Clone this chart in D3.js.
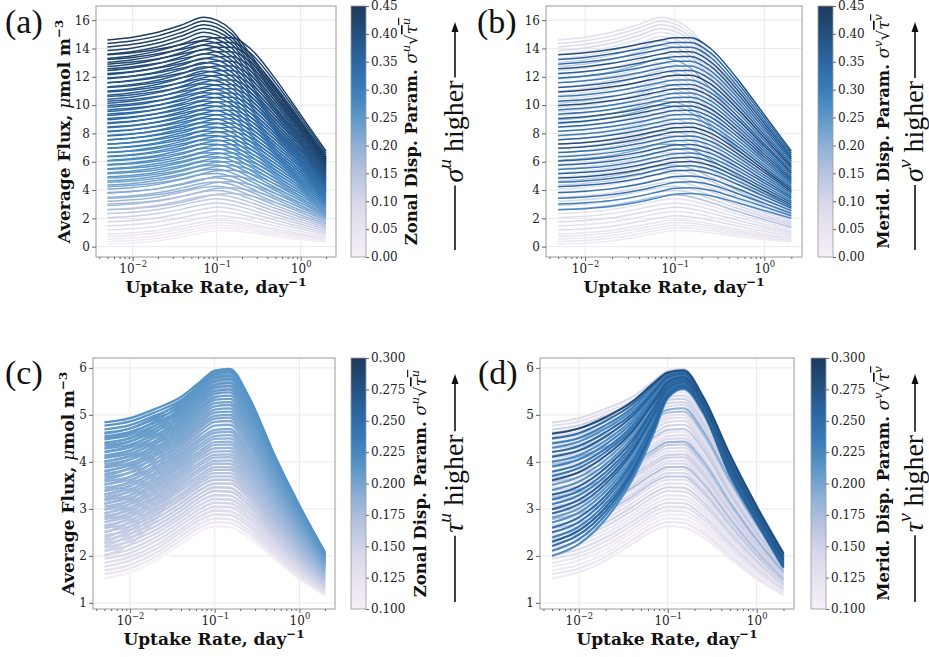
<!DOCTYPE html>
<html lang="en">
<head>
<meta charset="UTF-8">
<title>Average flux vs uptake rate</title>
<script src="https://d3js.org/d3.v7.min.js"></script>
<style>
  body { margin: 0; background: #fff; }
  svg { font-family: "DejaVu Serif", serif; }
</style>
</head>
<body>
<svg id="fig" width="929" height="657"></svg>
<script>
// uptake rates (day^-1) where each run was sampled
var uptakeRate = [0.005, 0.01, 0.02, 0.04, 0.07, 0.1, 0.15, 0.25, 0.5, 1, 2];
var rateTicks = [0.01, 0.1, 1];
var rateMinorTicks = [0.004, 0.005, 0.006, 0.007, 0.008, 0.009, 0.02, 0.03, 0.04, 0.05, 0.06, 0.07, 0.08, 0.09,
    0.2, 0.3, 0.4, 0.5, 0.6, 0.7, 0.8, 0.9, 2];

// top row: runs varying sigma (average flux, umol m^-3)
var fluxSigmaRuns = [
    [14.60, 14.80, 15.15, 15.70, 16.20, 16.00, 15.30, 13.60, 11.20, 8.80, 6.30],
    [14.35, 14.55, 14.89, 15.44, 15.94, 15.74, 15.05, 13.38, 11.02, 8.66, 6.20],
    [14.10, 14.29, 14.63, 15.18, 15.67, 15.48, 14.80, 13.16, 10.83, 8.51, 6.09],
    [13.85, 14.04, 14.38, 14.92, 15.41, 15.22, 14.56, 12.94, 10.65, 8.37, 5.99],
    [13.59, 13.78, 14.12, 14.65, 15.14, 14.96, 14.31, 12.72, 10.47, 8.22, 5.88],
    [13.30, 13.49, 13.83, 14.35, 14.84, 14.67, 14.03, 12.47, 10.26, 8.06, 5.77],
    [13.01, 13.20, 13.53, 14.05, 14.53, 14.37, 13.74, 12.21, 10.05, 7.89, 5.65],
    [12.73, 12.91, 13.24, 13.75, 14.23, 14.07, 13.46, 11.96, 9.84, 7.73, 5.53],
    [12.44, 12.62, 12.94, 13.45, 13.92, 13.77, 13.17, 11.71, 9.63, 7.56, 5.41],
    [12.15, 12.33, 12.65, 13.15, 13.62, 13.48, 12.89, 11.46, 9.42, 7.39, 5.29],
    [11.86, 12.04, 12.35, 12.85, 13.31, 13.18, 12.61, 11.20, 9.21, 7.22, 5.17],
    [11.57, 11.75, 12.06, 12.55, 13.01, 12.88, 12.33, 10.95, 9.00, 7.06, 5.05],
    [11.28, 11.45, 11.76, 12.25, 12.70, 12.58, 12.04, 10.70, 8.79, 6.89, 4.93],
    [10.99, 11.16, 11.47, 11.96, 12.40, 12.29, 11.76, 10.45, 8.58, 6.73, 4.81],
    [10.70, 10.87, 11.17, 11.66, 12.10, 11.99, 11.47, 10.19, 8.37, 6.56, 4.69],
    [10.42, 10.58, 10.88, 11.36, 11.80, 11.70, 11.19, 9.94, 8.16, 6.40, 4.58],
    [10.13, 10.29, 10.58, 11.06, 11.49, 11.40, 10.90, 9.69, 7.95, 6.23, 4.46],
    [9.84, 10.00, 10.29, 10.76, 11.19, 11.10, 10.62, 9.44, 7.74, 6.07, 4.34],
    [9.55, 9.71, 9.99, 10.46, 10.88, 10.80, 10.34, 9.18, 7.53, 5.90, 4.22],
    [9.26, 9.42, 9.70, 10.16, 10.58, 10.51, 10.06, 8.93, 7.32, 5.73, 4.10],
    [8.97, 9.13, 9.41, 9.86, 10.27, 10.21, 9.77, 8.68, 7.11, 5.56, 3.98],
    [8.69, 8.84, 9.12, 9.56, 9.97, 9.91, 9.49, 8.43, 6.90, 5.40, 3.86],
    [8.40, 8.54, 8.82, 9.26, 9.66, 9.61, 9.20, 8.17, 6.69, 5.23, 3.74],
    [8.11, 8.25, 8.53, 8.96, 9.36, 9.32, 8.92, 7.92, 6.48, 5.07, 3.62],
    [7.82, 7.96, 8.23, 8.66, 9.06, 9.02, 8.64, 7.67, 6.27, 4.90, 3.50],
    [7.53, 7.67, 7.94, 8.36, 8.76, 8.73, 8.36, 7.42, 6.07, 4.74, 3.39],
    [7.24, 7.38, 7.64, 8.06, 8.45, 8.43, 8.07, 7.16, 5.86, 4.57, 3.27],
    [6.95, 7.09, 7.35, 7.76, 8.15, 8.13, 7.79, 6.91, 5.65, 4.41, 3.15],
    [6.66, 6.80, 7.05, 7.46, 7.84, 7.83, 7.50, 6.66, 5.44, 4.24, 3.03],
    [6.38, 6.51, 6.76, 7.16, 7.54, 7.54, 7.22, 6.41, 5.23, 4.07, 2.91],
    [6.09, 6.22, 6.46, 6.86, 7.23, 7.24, 6.93, 6.15, 5.02, 3.90, 2.79],
    [5.80, 5.93, 6.17, 6.56, 6.93, 6.94, 6.65, 5.90, 4.81, 3.74, 2.67],
    [5.51, 5.63, 5.87, 6.26, 6.62, 6.64, 6.37, 5.65, 4.60, 3.57, 2.55],
    [5.22, 5.34, 5.58, 5.96, 6.32, 6.35, 6.09, 5.40, 4.39, 3.41, 2.43],
    [4.93, 5.05, 5.28, 5.66, 6.02, 6.05, 5.80, 5.15, 4.18, 3.24, 2.31],
    [4.65, 4.76, 4.99, 5.36, 5.72, 5.76, 5.52, 4.90, 3.97, 3.08, 2.20],
    [4.36, 4.47, 4.69, 5.06, 5.41, 5.46, 5.23, 4.64, 3.76, 2.91, 2.08],
    [4.07, 4.18, 4.40, 4.77, 5.11, 5.16, 4.95, 4.39, 3.55, 2.75, 1.96],
    [3.78, 3.89, 4.10, 4.47, 4.80, 4.86, 4.67, 4.14, 3.34, 2.58, 1.84],
    [3.49, 3.60, 3.81, 4.17, 4.50, 4.57, 4.39, 3.89, 3.13, 2.41, 1.72],
    [3.20, 3.31, 3.51, 3.87, 4.19, 4.27, 4.10, 3.63, 2.92, 2.24, 1.60],
    [2.91, 3.02, 3.22, 3.57, 3.89, 3.97, 3.82, 3.38, 2.71, 2.08, 1.48],
    [2.62, 2.72, 2.92, 3.27, 3.58, 3.67, 3.53, 3.13, 2.50, 1.91, 1.36],
    [2.34, 2.43, 2.63, 2.97, 3.28, 3.38, 3.25, 2.88, 2.29, 1.75, 1.24],
    [2.05, 2.14, 2.34, 2.67, 2.98, 3.08, 2.96, 2.62, 2.08, 1.58, 1.12],
    [1.76, 1.85, 2.04, 2.37, 2.67, 2.78, 2.68, 2.37, 1.87, 1.41, 1.00],
    [1.47, 1.56, 1.75, 2.07, 2.37, 2.49, 2.40, 2.12, 1.66, 1.25, 0.89],
    [1.18, 1.27, 1.45, 1.77, 2.06, 2.19, 2.11, 1.86, 1.45, 1.08, 0.77],
    [0.89, 0.98, 1.16, 1.47, 1.76, 1.89, 1.83, 1.61, 1.24, 0.92, 0.65],
    [0.71, 0.80, 0.98, 1.29, 1.57, 1.71, 1.66, 1.46, 1.11, 0.82, 0.58],
    [0.53, 0.61, 0.79, 1.10, 1.38, 1.52, 1.48, 1.30, 0.98, 0.71, 0.50],
    [0.35, 0.43, 0.61, 0.91, 1.19, 1.34, 1.30, 1.14, 0.85, 0.61, 0.43],
    [0.17, 0.25, 0.42, 0.72, 1.00, 1.15, 1.12, 0.98, 0.72, 0.50, 0.35],
    [13.55, 13.70, 13.95, 14.30, 14.60, 14.75, 14.75, 14.00, 11.85, 9.30, 6.75],
    [13.22, 13.37, 13.62, 13.97, 14.27, 14.42, 14.42, 13.69, 11.59, 9.10, 6.61],
    [12.89, 13.04, 13.28, 13.63, 13.93, 14.09, 14.09, 13.38, 11.33, 8.90, 6.47],
    [12.57, 12.71, 12.95, 13.30, 13.60, 13.76, 13.76, 13.07, 11.07, 8.70, 6.33],
    [12.24, 12.38, 12.62, 12.96, 13.27, 13.42, 13.43, 12.75, 10.80, 8.49, 6.18],
    [11.91, 12.05, 12.29, 12.63, 12.94, 13.09, 13.10, 12.44, 10.54, 8.29, 6.04],
    [11.58, 11.72, 11.95, 12.29, 12.60, 12.76, 12.77, 12.13, 10.28, 8.09, 5.90],
    [11.25, 11.39, 11.62, 11.96, 12.27, 12.43, 12.44, 11.82, 10.02, 7.89, 5.76],
    [10.92, 11.06, 11.29, 11.62, 11.94, 12.10, 12.11, 11.50, 9.75, 7.68, 5.61],
    [10.60, 10.73, 10.96, 11.29, 11.61, 11.77, 11.78, 11.19, 9.49, 7.48, 5.47],
    [10.27, 10.39, 10.62, 10.96, 11.27, 11.44, 11.45, 10.88, 9.23, 7.28, 5.33],
    [9.97, 10.09, 10.32, 10.65, 10.97, 11.14, 11.15, 10.60, 8.99, 7.09, 5.20],
    [9.66, 9.79, 10.01, 10.34, 10.66, 10.83, 10.85, 10.31, 8.74, 6.90, 5.06],
    [9.36, 9.49, 9.71, 10.04, 10.36, 10.53, 10.55, 10.03, 8.50, 6.72, 4.93],
    [9.06, 9.18, 9.40, 9.73, 10.05, 10.22, 10.24, 9.74, 8.26, 6.53, 4.80],
    [8.76, 8.88, 9.10, 9.43, 9.75, 9.92, 9.94, 9.45, 8.02, 6.35, 4.67],
    [8.46, 8.58, 8.79, 9.12, 9.44, 9.61, 9.64, 9.16, 7.78, 6.16, 4.54],
    [8.16, 8.28, 8.49, 8.81, 9.14, 9.31, 9.34, 8.88, 7.54, 5.98, 4.41],
    [7.86, 7.97, 8.18, 8.50, 8.83, 9.00, 9.03, 8.59, 7.30, 5.79, 4.28],
    [7.56, 7.67, 7.88, 8.20, 8.53, 8.70, 8.73, 8.31, 7.06, 5.61, 4.15],
    [7.25, 7.36, 7.57, 7.89, 8.22, 8.40, 8.43, 8.02, 6.82, 5.42, 4.02],
    [6.95, 7.06, 7.27, 7.59, 7.92, 8.10, 8.13, 7.74, 6.58, 5.24, 3.89],
    [6.65, 6.76, 6.96, 7.28, 7.61, 7.79, 7.82, 7.45, 6.34, 5.05, 3.76],
    [6.35, 6.46, 6.66, 6.97, 7.31, 7.49, 7.52, 7.17, 6.10, 4.87, 3.63],
    [6.05, 6.15, 6.35, 6.66, 7.00, 7.18, 7.22, 6.88, 5.86, 4.68, 3.50],
    [5.75, 5.85, 6.05, 6.36, 6.70, 6.88, 6.92, 6.59, 5.62, 4.50, 3.37],
    [5.45, 5.55, 5.74, 6.05, 6.39, 6.57, 6.61, 6.30, 5.38, 4.31, 3.24],
    [5.15, 5.25, 5.44, 5.75, 6.09, 6.27, 6.31, 6.02, 5.14, 4.12, 3.11],
    [4.85, 4.94, 5.13, 5.44, 5.78, 5.97, 6.01, 5.73, 4.89, 3.93, 2.97],
    [4.55, 4.64, 4.83, 5.13, 5.48, 5.67, 5.71, 5.45, 4.65, 3.75, 2.84],
    [4.24, 4.33, 4.52, 4.82, 5.17, 5.36, 5.40, 5.16, 4.41, 3.56, 2.71],
    [3.83, 3.92, 4.10, 4.41, 4.75, 4.95, 4.99, 4.77, 4.09, 3.31, 2.54],
    [3.42, 3.51, 3.68, 3.99, 4.33, 4.53, 4.58, 4.38, 3.76, 3.06, 2.36],
    [3.01, 3.10, 3.27, 3.57, 3.92, 4.12, 4.17, 3.99, 3.43, 2.81, 2.18],
    [2.60, 2.68, 2.85, 3.15, 3.50, 3.70, 3.75, 3.60, 3.10, 2.55, 2.00]
];
// sigma^u sqrt(tau^u) and sigma^v sqrt(tau^v) of each run above
var zonalSigmaParam = [0.44, 0.438, 0.435, 0.43, 0.425, 0.42, 0.415, 0.41, 0.405, 0.40, 0.395, 0.39, 0.385, 0.378,
    0.37, 0.365, 0.36, 0.355, 0.35, 0.345, 0.34, 0.335, 0.33, 0.322, 0.315, 0.31, 0.305, 0.298, 0.29, 0.283,
    0.275, 0.268, 0.26, 0.253, 0.245, 0.235, 0.225, 0.215, 0.205, 0.193, 0.18, 0.165, 0.15, 0.135, 0.12,
    0.105, 0.09, 0.07, 0.055, 0.043, 0.03, 0.02, 0.01,
    0.43, 0.425, 0.42, 0.413, 0.405, 0.398, 0.39, 0.385, 0.38, 0.373, 0.365, 0.36, 0.355, 0.35, 0.345, 0.338,
    0.33, 0.325, 0.32, 0.313, 0.305, 0.298, 0.29, 0.283, 0.275, 0.268, 0.26, 0.25, 0.24, 0.23, 0.22, 0.205,
    0.19, 0.17, 0.15];
var meridSigmaParam = [0.07, 0.08, 0.09, 0.1, 0.06, 0.07, 0.11, 0.13, 0.08, 0.06, 0.2, 0.09, 0.1, 0.11,
    0.07, 0.07, 0.12, 0.1, 0.09, 0.08, 0.18, 0.19, 0.08, 0.06, 0.1, 0.09, 0.06, 0.12, 0.11, 0.07,
    0.2, 0.1, 0.09, 0.08, 0.07, 0.14, 0.12, 0.07, 0.08, 0.09, 0.1, 0.11, 0.16, 0.06, 0.07,
    0.09, 0.06, 0.08, 0.05, 0.05, 0.04, 0.04, 0.03,
    0.4, 0.35, 0.33, 0.39, 0.37, 0.32, 0.3, 0.36, 0.42, 0.3, 0.34, 0.4, 0.31, 0.33, 0.38, 0.37,
    0.35, 0.31, 0.29, 0.35, 0.41, 0.38, 0.33, 0.3, 0.36, 0.34, 0.3, 0.36, 0.39, 0.32, 0.34, 0.33,
    0.31, 0.29, 0.28];

// bottom row: runs varying tau
var fluxTauRuns = [
    [4.84, 4.93, 5.13, 5.38, 5.73, 5.94, 5.98, 5.40, 4.17, 3.07, 2.08],
    [4.77, 4.86, 5.06, 5.31, 5.66, 5.87, 5.91, 5.34, 4.12, 3.04, 2.06],
    [4.69, 4.78, 4.99, 5.24, 5.59, 5.79, 5.83, 5.27, 4.07, 3.00, 2.04],
    [4.62, 4.71, 4.92, 5.17, 5.52, 5.72, 5.76, 5.20, 4.02, 2.97, 2.02],
    [4.54, 4.64, 4.84, 5.10, 5.44, 5.64, 5.68, 5.13, 3.97, 2.93, 2.00],
    [4.48, 4.57, 4.78, 5.04, 5.38, 5.58, 5.61, 5.07, 3.93, 2.90, 1.98],
    [4.41, 4.50, 4.71, 4.97, 5.32, 5.51, 5.54, 5.01, 3.88, 2.87, 1.96],
    [4.35, 4.44, 4.65, 4.91, 5.26, 5.45, 5.48, 4.95, 3.84, 2.84, 1.94],
    [4.28, 4.37, 4.58, 4.85, 5.19, 5.38, 5.41, 4.89, 3.79, 2.81, 1.92],
    [4.21, 4.31, 4.52, 4.79, 5.13, 5.32, 5.34, 4.83, 3.75, 2.78, 1.91],
    [4.14, 4.24, 4.45, 4.73, 5.06, 5.25, 5.27, 4.77, 3.70, 2.74, 1.89],
    [4.08, 4.18, 4.39, 4.67, 5.00, 5.18, 5.21, 4.71, 3.66, 2.71, 1.87],
    [4.01, 4.11, 4.32, 4.60, 4.93, 5.11, 5.14, 4.65, 3.61, 2.68, 1.85],
    [3.95, 4.05, 4.26, 4.54, 4.87, 5.05, 5.07, 4.59, 3.57, 2.65, 1.83],
    [3.88, 3.98, 4.19, 4.48, 4.81, 4.98, 5.00, 4.53, 3.52, 2.62, 1.81],
    [3.81, 3.92, 4.13, 4.42, 4.75, 4.92, 4.94, 4.47, 3.48, 2.59, 1.80],
    [3.74, 3.85, 4.06, 4.35, 4.68, 4.85, 4.87, 4.41, 3.43, 2.56, 1.78],
    [3.66, 3.77, 3.98, 4.27, 4.60, 4.77, 4.79, 4.34, 3.38, 2.52, 1.76],
    [3.58, 3.68, 3.90, 4.19, 4.52, 4.68, 4.70, 4.26, 3.32, 2.48, 1.73],
    [3.52, 3.62, 3.84, 4.13, 4.46, 4.62, 4.64, 4.20, 3.28, 2.45, 1.71],
    [3.45, 3.55, 3.77, 4.07, 4.39, 4.55, 4.57, 4.14, 3.23, 2.42, 1.69],
    [3.38, 3.49, 3.71, 4.01, 4.33, 4.49, 4.50, 4.08, 3.19, 2.39, 1.68],
    [3.31, 3.42, 3.64, 3.95, 4.26, 4.42, 4.43, 4.02, 3.14, 2.35, 1.66],
    [3.25, 3.36, 3.58, 3.89, 4.20, 4.36, 4.37, 3.96, 3.10, 2.32, 1.64],
    [3.18, 3.29, 3.52, 3.82, 4.14, 4.29, 4.30, 3.90, 3.06, 2.29, 1.62],
    [3.12, 3.23, 3.46, 3.76, 4.08, 4.22, 4.23, 3.84, 3.02, 2.26, 1.60],
    [3.05, 3.16, 3.39, 3.70, 4.01, 4.15, 4.16, 3.78, 2.97, 2.23, 1.58],
    [2.98, 3.10, 3.33, 3.64, 3.95, 4.09, 4.10, 3.72, 2.93, 2.20, 1.57],
    [2.91, 3.03, 3.26, 3.57, 3.88, 4.02, 4.03, 3.66, 2.88, 2.17, 1.55],
    [2.85, 2.97, 3.20, 3.51, 3.82, 3.96, 3.96, 3.60, 2.84, 2.14, 1.53],
    [2.78, 2.90, 3.13, 3.45, 3.75, 3.89, 3.89, 3.54, 2.79, 2.10, 1.51],
    [2.72, 2.84, 3.07, 3.39, 3.69, 3.83, 3.83, 3.48, 2.75, 2.07, 1.49],
    [2.65, 2.77, 3.00, 3.32, 3.63, 3.76, 3.76, 3.42, 2.70, 2.04, 1.47],
    [2.59, 2.70, 2.94, 3.26, 3.57, 3.69, 3.69, 3.36, 2.66, 2.01, 1.46],
    [2.52, 2.63, 2.87, 3.20, 3.50, 3.62, 3.62, 3.30, 2.61, 1.98, 1.44],
    [2.44, 2.55, 2.79, 3.12, 3.42, 3.54, 3.54, 3.23, 2.56, 1.94, 1.42],
    [2.35, 2.47, 2.71, 3.04, 3.34, 3.46, 3.45, 3.15, 2.50, 1.90, 1.39],
    [2.27, 2.39, 2.63, 2.96, 3.26, 3.38, 3.37, 3.08, 2.45, 1.86, 1.37],
    [2.18, 2.31, 2.55, 2.88, 3.18, 3.29, 3.28, 3.00, 2.39, 1.82, 1.34],
    [2.10, 2.23, 2.47, 2.81, 3.10, 3.21, 3.20, 2.93, 2.34, 1.78, 1.32],
    [2.02, 2.14, 2.39, 2.73, 3.02, 3.13, 3.12, 2.85, 2.28, 1.74, 1.30],
    [1.94, 2.06, 2.31, 2.65, 2.94, 3.05, 3.04, 2.78, 2.22, 1.71, 1.28],
    [1.85, 1.98, 2.22, 2.57, 2.86, 2.96, 2.95, 2.70, 2.16, 1.67, 1.25],
    [1.77, 1.90, 2.14, 2.50, 2.78, 2.88, 2.87, 2.63, 2.11, 1.63, 1.23],
    [1.69, 1.81, 2.06, 2.42, 2.70, 2.80, 2.78, 2.55, 2.05, 1.59, 1.21],
    [1.61, 1.73, 1.98, 2.34, 2.62, 2.72, 2.70, 2.48, 2.00, 1.55, 1.19],
    [1.52, 1.65, 1.90, 2.26, 2.54, 2.63, 2.61, 2.40, 1.94, 1.51, 1.16],
    [4.60, 4.71, 4.95, 5.28, 5.68, 5.90, 5.95, 5.38, 4.15, 3.05, 2.05],
    [4.50, 4.61, 4.87, 5.22, 5.64, 5.88, 5.94, 5.37, 4.13, 3.04, 2.04],
    [4.39, 4.51, 4.78, 5.15, 5.60, 5.86, 5.92, 5.35, 4.11, 3.02, 2.03],
    [4.30, 4.43, 4.71, 5.09, 5.56, 5.84, 5.91, 5.34, 4.10, 3.01, 2.02],
    [4.21, 4.34, 4.63, 5.03, 5.52, 5.82, 5.89, 5.33, 4.08, 3.00, 2.00],
    [4.11, 4.24, 4.54, 4.97, 5.48, 5.80, 5.88, 5.32, 4.07, 2.99, 1.99],
    [4.00, 4.14, 4.45, 4.90, 5.44, 5.77, 5.86, 5.30, 4.05, 2.97, 1.98],
    [3.90, 4.05, 4.37, 4.84, 5.40, 5.75, 5.85, 5.29, 4.03, 2.96, 1.97],
    [3.79, 3.95, 4.28, 4.77, 5.35, 5.73, 5.83, 5.28, 4.01, 2.94, 1.95],
    [3.70, 3.87, 4.21, 4.71, 5.32, 5.71, 5.82, 5.27, 4.00, 2.93, 1.94],
    [3.61, 3.78, 4.13, 4.65, 5.28, 5.69, 5.80, 5.26, 3.98, 2.92, 1.93],
    [3.51, 3.68, 4.04, 4.59, 5.24, 5.67, 5.79, 5.25, 3.96, 2.91, 1.92],
    [3.40, 3.58, 3.95, 4.52, 5.19, 5.65, 5.77, 5.23, 3.94, 2.89, 1.91],
    [3.30, 3.48, 3.87, 4.45, 5.15, 5.63, 5.75, 5.22, 3.93, 2.88, 1.90],
    [3.20, 3.38, 3.78, 4.38, 5.11, 5.60, 5.73, 5.20, 3.91, 2.86, 1.88],
    [3.10, 3.29, 3.70, 4.32, 5.07, 5.58, 5.72, 5.19, 3.89, 2.85, 1.87],
    [2.99, 3.19, 3.61, 4.25, 5.02, 5.56, 5.70, 5.18, 3.87, 2.83, 1.86],
    [2.90, 3.10, 3.53, 4.20, 4.99, 5.54, 5.69, 5.17, 3.86, 2.82, 1.85],
    [2.81, 3.01, 3.45, 4.14, 4.95, 5.52, 5.67, 5.15, 3.84, 2.81, 1.84],
    [2.71, 2.92, 3.37, 4.07, 4.91, 5.50, 5.66, 5.14, 3.82, 2.80, 1.83],
    [2.60, 2.82, 3.28, 4.00, 4.86, 5.48, 5.64, 5.13, 3.80, 2.78, 1.81],
    [2.50, 2.72, 3.20, 3.94, 4.82, 5.46, 5.63, 5.12, 3.79, 2.77, 1.80],
    [2.39, 2.62, 3.11, 3.87, 4.78, 5.43, 5.61, 5.10, 3.77, 2.75, 1.79],
    [2.30, 2.54, 3.03, 3.81, 4.75, 5.41, 5.60, 5.09, 3.76, 2.74, 1.78],
    [2.21, 2.45, 2.95, 3.75, 4.71, 5.39, 5.58, 5.08, 3.74, 2.73, 1.77],
    [2.11, 2.35, 2.87, 3.69, 4.67, 5.37, 5.57, 5.07, 3.72, 2.72, 1.76],
    [2.00, 2.25, 2.78, 3.62, 4.62, 5.35, 5.55, 5.05, 3.70, 2.70, 1.74]
];
var zonalTauParam = [0.215, 0.214, 0.212, 0.211, 0.21, 0.208, 0.207, 0.206, 0.205, 0.204, 0.202, 0.201,
    0.2, 0.198, 0.197, 0.196, 0.194, 0.192, 0.191, 0.189, 0.188, 0.186, 0.185, 0.183, 0.181, 0.18,
    0.178, 0.176, 0.175, 0.173, 0.171, 0.169, 0.167, 0.165, 0.163, 0.16, 0.158, 0.155, 0.151, 0.148,
    0.145, 0.141, 0.136, 0.132, 0.126, 0.118, 0.1,
    0.211, 0.209, 0.207, 0.205, 0.204, 0.202, 0.199, 0.197, 0.195, 0.193, 0.191, 0.189, 0.186, 0.184,
    0.182, 0.179, 0.177, 0.174, 0.172, 0.169, 0.166, 0.162, 0.159, 0.156, 0.152, 0.149, 0.144];
var meridTauParam = [0.14, 0.13, 0.15, 0.16, 0.13, 0.14, 0.17, 0.12, 0.14, 0.15, 0.15, 0.14,
    0.19, 0.17, 0.13, 0.13, 0.14, 0.15, 0.16, 0.12, 0.13, 0.14, 0.18, 0.16, 0.14, 0.13,
    0.15, 0.15, 0.13, 0.14, 0.17, 0.12, 0.14, 0.16, 0.13, 0.13, 0.15, 0.14, 0.12, 0.12,
    0.14, 0.13, 0.12, 0.11, 0.11, 0.12, 0.11,
    0.28, 0.25, 0.23, 0.22, 0.25, 0.26, 0.22, 0.23, 0.24, 0.24, 0.27, 0.21, 0.22, 0.26,
    0.24, 0.23, 0.26, 0.25, 0.21, 0.22, 0.25, 0.24, 0.23, 0.26, 0.25, 0.23, 0.22];

var fluxSigmaTicks = [0, 2, 4, 6, 8, 10, 12, 14, 16];
var fluxTauTicks = [1, 2, 3, 4, 5, 6];
var sigmaParamTicks = [0, 0.05, 0.1, 0.15, 0.2, 0.25, 0.3, 0.35, 0.4, 0.45];
var tauParamTicks = [0.1, 0.125, 0.15, 0.175, 0.2, 0.225, 0.25, 0.275, 0.3];

// colour map, pale lilac -> blue -> navy
var cmapStops = [0, 0.111, 0.222, 0.333, 0.444, 0.556, 0.667, 0.778, 0.889, 1];
var cmapColors = ["#f5eff6", "#e9e5f0", "#d8d8ea", "#b8c4e0", "#8eb0d6", "#5d98c8", "#3a7db9", "#2b67a3", "#24507f", "#1d3a5c"];
var cmap = d3.scaleLinear().domain(cmapStops).range(cmapColors).interpolate(d3.interpolateRgb).clamp(true);

var svg = d3.select("#fig");
var defs = svg.append("defs");
var grad = defs.append("linearGradient")
    .attr("id", "cbarGrad")
    .attr("x1", 0).attr("y1", 1).attr("x2", 0).attr("y2", 0);
for (var s = 0; s < cmapStops.length; s++) {
    grad.append("stop").attr("offset", cmapStops[s]).attr("stop-color", cmapColors[s]);
}

// writes a list of text pieces, superscripts raised
function writeParts(text, parts, size) {
    var raised = false;
    parts.forEach(function (p) {
        var t = text.append("tspan").text(p.t);
        if (p.sup && !raised) { t.attr("dy", -0.42 * size); raised = true; }
        else if (!p.sup && raised) { t.attr("dy", 0.42 * size); raised = false; }
        if (p.sup) t.attr("font-size", size * 0.7);
        if (p.italic) t.attr("font-style", "italic");
        if (p.normal) t.attr("font-weight", "normal");
        if (p.over) t.attr("text-decoration", "overline");
    });
}

function drawPanel(p) {
    var x = d3.scaleLog().domain([0.00366, 2.63]).range([p.left, p.right]);
    var y = d3.scaleLinear().domain(p.yDomain).range([p.bottom, p.top]);
    var g = svg.append("g");

    // grid
    g.selectAll("line.gx").data(rateTicks).join("line")
        .attr("x1", function (d) { return x(d); }).attr("x2", function (d) { return x(d); })
        .attr("y1", p.top).attr("y2", p.bottom)
        .attr("stroke", "#e8e8e8").attr("stroke-width", 0.9);
    g.selectAll("line.gy").data(p.yTicks).join("line")
        .attr("y1", function (d) { return y(d); }).attr("y2", function (d) { return y(d); })
        .attr("x1", p.left).attr("x2", p.right)
        .attr("stroke", "#e8e8e8").attr("stroke-width", 0.9);

    // runs, drawn so that higher parameter sits on top
    var line = d3.line()
        .x(function (d, i) { return x(uptakeRate[i]); })
        .y(function (d) { return y(d); })
        .curve(d3.curveMonotoneX);
    var order = d3.range(p.runs.length).sort(function (a, b) { return p.param[a] - p.param[b]; });
    var c = d3.scaleLinear().domain(p.cDomain).range([0, 1]);
    g.append("g").selectAll("path").data(order).join("path")
        .attr("d", function (k) { return line(p.runs[k]); })
        .attr("fill", "none")
        .attr("stroke", function (k) { return cmap(c(p.param[k])); })
        .attr("stroke-width", p.lw);

    // frame
    g.append("rect")
        .attr("x", p.left).attr("y", p.top)
        .attr("width", p.right - p.left).attr("height", p.bottom - p.top)
        .attr("fill", "none").attr("stroke", "#9a9a9a").attr("stroke-width", 1);

    // x axis
    var xMinor = g.append("g").attr("transform", "translate(0," + p.bottom + ")")
        .call(d3.axisBottom(x).tickValues(rateMinorTicks).tickSize(2).tickFormat(""));
    var xMajor = g.append("g").attr("transform", "translate(0," + p.bottom + ")")
        .call(d3.axisBottom(x).tickValues(rateTicks).tickSize(4).tickPadding(3));
    [xMinor, xMajor].forEach(function (a) {
        a.select(".domain").remove();
        a.selectAll(".tick line").attr("stroke", "#666");
    });
    xMajor.selectAll(".tick text").each(function (d) {
        var t = d3.select(this).text(null).attr("font-size", 12).attr("font-family", "DejaVu Serif").attr("fill", "#222");
        var e = Math.round(Math.log10(d));
        writeParts(t, [{ t: "10" }, { t: e < 0 ? "\u2212" + (-e) : String(e), sup: true }], 12);
    });

    // y axis
    var yAx = g.append("g").attr("transform", "translate(" + p.left + ",0)")
        .call(d3.axisLeft(y).tickValues(p.yTicks).tickSize(4).tickPadding(2).tickFormat(d3.format("d")));
    yAx.select(".domain").remove();
    yAx.selectAll(".tick line").attr("stroke", "#666");
    yAx.selectAll(".tick text").attr("font-size", 12).attr("font-family", "DejaVu Serif").attr("fill", "#222");

    // axis titles
    var xt = g.append("text")
        .attr("x", (p.left + p.right) / 2).attr("y", p.bottom + 36)
        .attr("text-anchor", "middle").attr("font-size", 17).attr("font-weight", "bold").attr("fill", "#111");
    writeParts(xt, [{ t: "Uptake Rate, day" }, { t: "\u22121", sup: true }], 17);

    if (p.yLabelX) {
        var yt = g.append("text")
            .attr("transform", "translate(" + p.yLabelX + "," + (p.top + p.bottom) / 2 + ") rotate(-90)")
            .attr("text-anchor", "middle").attr("font-size", 17).attr("font-weight", "bold").attr("fill", "#111");
        writeParts(yt, [{ t: "Average Flux, " }, { t: "\u03bc", italic: true, normal: true },
            { t: "mol m" }, { t: "\u22123", sup: true }], 17);
    }

    // panel tag
    g.append("text").attr("x", p.tagX).attr("y", p.tagY)
        .attr("font-family", "Liberation Serif").attr("font-size", 34).attr("fill", "#111").text(p.tag);

    // colour bar
    var cb = d3.scaleLinear().domain(p.cDomain).range([p.bottom, p.top]);
    g.append("rect")
        .attr("x", p.cbarX).attr("y", p.top).attr("width", 15).attr("height", p.bottom - p.top)
        .attr("fill", "url(#cbarGrad)").attr("stroke", "#9a9a9a").attr("stroke-width", 0.8);
    var cAx = g.append("g").attr("transform", "translate(" + (p.cbarX + 15) + ",0)")
        .call(d3.axisRight(cb).tickValues(p.cTicks).tickSize(3).tickPadding(2).tickFormat(d3.format(p.cFormat)));
    cAx.select(".domain").remove();
    cAx.selectAll(".tick line").attr("stroke", "#666");
    cAx.selectAll(".tick text").attr("font-size", 12).attr("font-family", "DejaVu Serif").attr("fill", "#222");

    var ct = g.append("text")
        .attr("transform", "translate(" + p.cLabelX + "," + (p.top + p.bottom) / 2 + ") rotate(-90)")
        .attr("text-anchor", "middle").attr("font-size", 16.5).attr("font-weight", "bold").attr("fill", "#111");
    writeParts(ct, [{ t: p.cName + " Disp. Param. " },
        { t: "\u03c3", italic: true, normal: true }, { t: p.dir, sup: true, italic: true, normal: true },
        { t: "\u221a", normal: true }, { t: "\u03c4", italic: true, normal: true, over: true },
        { t: p.dir, sup: true, italic: true, normal: true, over: true }], 16.5);

    // "... higher" arrow
    var ag = g.append("g").attr("transform", "translate(" + p.arrowX + "," + (p.top + p.bottom) / 2 + ") rotate(-90)");
    var half = (p.bottom - p.top) / 2;
    var at = ag.append("text").attr("x", 0).attr("y", 8)
        .attr("text-anchor", "middle").attr("font-family", "Liberation Serif").attr("font-size", 28).attr("fill", "#111");
    writeParts(at, [{ t: p.arrowSym, italic: true }, { t: p.dir, sup: true, italic: true }, { t: " higher" }], 28);
    var tw = at.node().getComputedTextLength() / 2 + 3;
    ag.append("line").attr("x1", -half + 7).attr("x2", -tw).attr("y1", 0).attr("y2", 0)
        .attr("stroke", "#111").attr("stroke-width", 1.6);
    ag.append("line").attr("x1", tw).attr("x2", half - 24).attr("y1", 0).attr("y2", 0)
        .attr("stroke", "#111").attr("stroke-width", 1.6);
    ag.append("path").attr("d", "M" + (half - 26) + ",-3.5 L" + (half - 16) + ",0 L" + (half - 26) + ",3.5 Z")
        .attr("fill", "#111");
}

drawPanel({
    left: 96, right: 336, top: 6, bottom: 257, yDomain: [-0.73, 17.0], yTicks: fluxSigmaTicks,
    runs: fluxSigmaRuns, param: zonalSigmaParam, lw: 1.5,
    cDomain: [0, 0.45], cTicks: sigmaParamTicks, cFormat: ".2f", cbarX: 351, cLabelX: 417, cName: "Zonal", dir: "u",
    arrowX: 455, arrowSym: "\u03c3", tag: "(a)", tagX: 5, tagY: 33, yLabelX: 70
});
drawPanel({
    left: 546, right: 802, top: 6, bottom: 257, yDomain: [-0.73, 17.0], yTicks: fluxSigmaTicks,
    runs: fluxSigmaRuns, param: meridSigmaParam, lw: 1.5,
    cDomain: [0, 0.45], cTicks: sigmaParamTicks, cFormat: ".2f", cbarX: 818, cLabelX: 889, cName: "Merid.", dir: "v",
    arrowX: 915, arrowSym: "\u03c3", tag: "(b)", tagX: 477, tagY: 33, yLabelX: null
});
drawPanel({
    left: 93, right: 335, top: 358, bottom: 609, yDomain: [0.87, 6.21], yTicks: fluxTauTicks,
    runs: fluxTauRuns, param: zonalTauParam, lw: 2.3,
    cDomain: [0.1, 0.3], cTicks: tauParamTicks, cFormat: ".3f", cbarX: 351, cLabelX: 426, cName: "Zonal", dir: "u",
    arrowX: 455, arrowSym: "\u03c4", tag: "(c)", tagX: 5, tagY: 384, yLabelX: 74
});
drawPanel({
    left: 540, right: 794, top: 358, bottom: 609, yDomain: [0.87, 6.21], yTicks: fluxTauTicks,
    runs: fluxTauRuns, param: meridTauParam, lw: 2.1,
    cDomain: [0.1, 0.3], cTicks: tauParamTicks, cFormat: ".3f", cbarX: 811, cLabelX: 889, cName: "Merid.", dir: "v",
    arrowX: 915, arrowSym: "\u03c4", tag: "(d)", tagX: 478, tagY: 384, yLabelX: null
});
</script>
</body>
</html>
